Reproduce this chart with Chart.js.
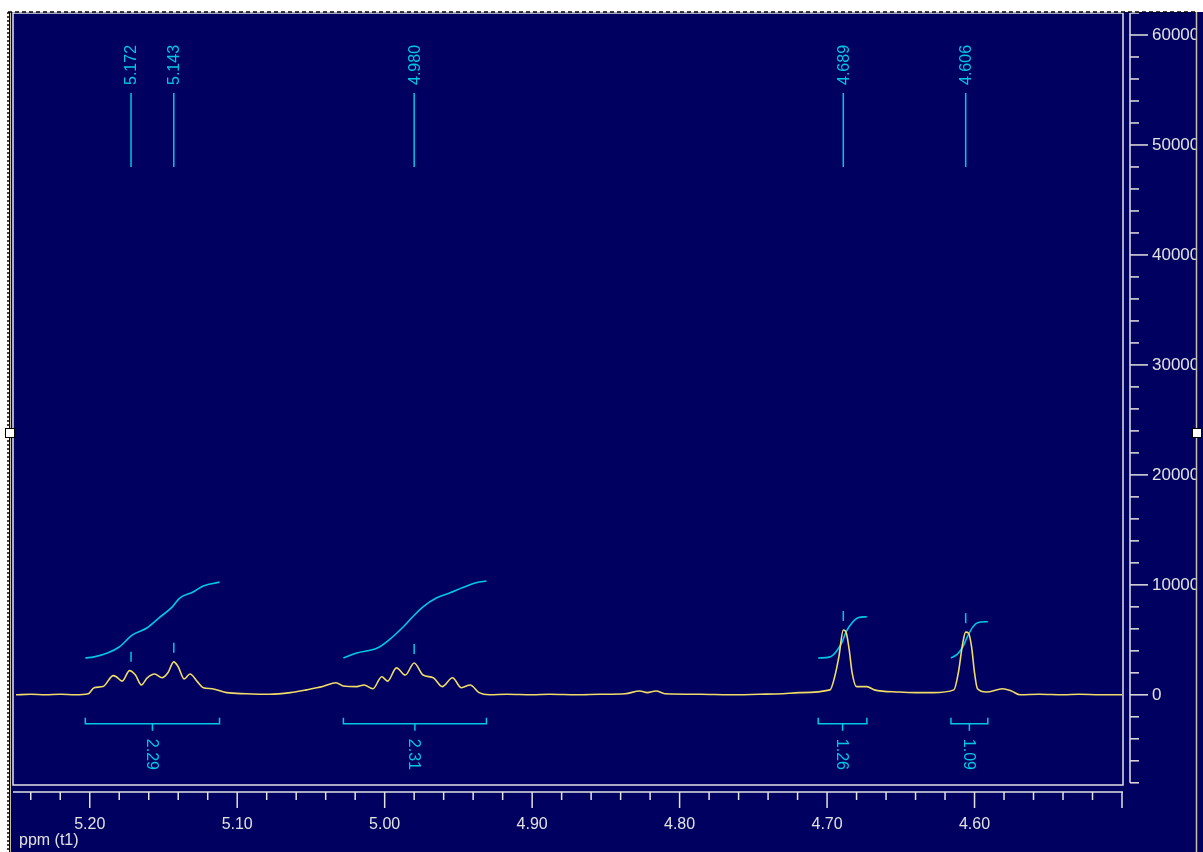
<!DOCTYPE html>
<html>
<head>
<meta charset="utf-8">
<title>1H NMR 4.50-5.25 ppm</title>
<script src="https://cdn.jsdelivr.net/npm/chart.js@4.4.1/dist/chart.umd.min.js"></script>
<style>
  html, body { margin: 0; padding: 0; background: #fff; }
  #wrap { width: 1203px; height: 852px; position: relative; }
</style>
</head>
<body>
<div id="wrap"><canvas id="nmrChart"></canvas></div>
<script>
// spectrum (ppm, intensity)
const ppm = [5.250, 5.240, 5.230, 5.220, 5.210, 5.201, 5.197, 5.191, 5.184, 5.182, 5.178, 5.173, 5.169, 5.165,
  5.161, 5.156, 5.151, 5.147, 5.143, 5.140, 5.136, 5.132, 5.127, 5.123, 5.117, 5.107, 5.094, 5.078,
  5.064, 5.053, 5.042, 5.033, 5.028, 5.019, 5.014, 5.008, 5.002, 4.998, 4.992, 4.986, 4.980, 4.974,
  4.967, 4.961, 4.954, 4.948, 4.942, 4.936, 4.929, 4.917, 4.900, 4.888, 4.870, 4.854, 4.837, 4.827,
  4.822, 4.816, 4.810, 4.786, 4.766, 4.746, 4.730, 4.719, 4.698, 4.695, 4.692, 4.689, 4.687, 4.685,
  4.683, 4.680, 4.673, 4.668, 4.651, 4.640, 4.628, 4.614, 4.611, 4.608, 4.606, 4.604, 4.602, 4.600,
  4.598, 4.592, 4.581, 4.575, 4.569, 4.556, 4.540, 4.529, 4.515, 4.500];
const intensity = [0, 50, 0, 50, 0, 100, 650, 750, 1750, 1650, 1250, 2200, 1800, 900,
  1550, 1900, 1550, 2000, 3000, 2550, 1450, 1900, 1200, 650, 550, 200, 100, 50,
  200, 450, 750, 1100, 800, 750, 900, 550, 1650, 1250, 2450, 1800, 2900, 1800,
  1550, 750, 1550, 650, 900, 200, 0, 50, 0, 50, 0, 50, 100, 350,
  200, 350, 100, 50, 0, 50, 100, 200, 450, 1550, 3450, 5900, 5650, 4100,
  2000, 750, 750, 450, 250, 200, 200, 450, 2000, 4700, 5700, 5600, 4350, 2000,
  550, 250, 550, 350, 0, 50, 0, 50, 0, 0];

// integral curves
const int1Ppm = [5.203, 5.197, 5.188, 5.180, 5.171, 5.161, 5.153, 5.144, 5.139, 5.130, 5.123, 5.112];
const int1Val = [3350, 3450, 3800, 4350, 5450, 6100, 7000, 8000, 8800, 9350, 9900, 10250];
const int2Ppm = [5.028, 5.019, 5.005, 4.997, 4.988, 4.981, 4.974, 4.965, 4.956, 4.947, 4.938, 4.931];
const int2Val = [3350, 3800, 4250, 5000, 6100, 7100, 8000, 8800, 9250, 9750, 10200, 10350];
const int3Ppm = [4.706, 4.698, 4.694, 4.690, 4.687, 4.683, 4.679, 4.673];
const int3Val = [3350, 3450, 3900, 4750, 5750, 6550, 7000, 7100];
const int4Ppm = [4.616, 4.612, 4.608, 4.605, 4.601, 4.598, 4.591];
const int4Val = [3350, 3650, 4350, 5250, 6200, 6550, 6650];

// integral regions and values
const integralFrom = [5.203, 5.028, 4.706, 4.616];
const integralTo = [5.112, 4.931, 4.673, 4.591];
const integralLabels = ['2.29', '2.31', '1.26', '1.09'];

// picked peaks
const peakPpm = [5.172, 5.143, 4.980, 4.689, 4.606];
const peakHeight = [2200, 3000, 2900, 5900, 5700];

// axes
const xTicks = [5.20, 5.10, 5.00, 4.90, 4.80, 4.70, 4.60];
const yTicks = [0, 10000, 20000, 30000, 40000, 50000, 60000];
const xTitle = 'ppm (t1)';

const NAVY = '#000060';
const CYAN = '#00c8e4';
const YELLOW = '#f0dc68';
const AXIS = '#e2e2e2';
const FAMILY = '"Liberation Sans", Arial, sans-serif';
const FONT = { family: FAMILY, size: 16 };
const FONT_CSS = '16px ' + FAMILY;

const pts = (xs, ys) => xs.map((v, i) => ({ x: v, y: ys[i] }));

function seg(ctx, x1, y1, x2, y2) {
  ctx.beginPath();
  ctx.moveTo(x1, y1);
  ctx.lineTo(x2, y2);
  ctx.stroke();
}

// scale labels add to the layout padding; the frame is fixed here instead
function noPad(s) {
  s.paddingTop = 0;
  s.paddingBottom = 0;
  s.paddingLeft = 0;
  s.paddingRight = 0;
}

const decor = {
  id: 'decor',
  beforeDraw(chart) {
    const { ctx, width, height } = chart;
    ctx.save();
    ctx.fillStyle = '#fff';
    ctx.fillRect(0, 0, width, height);
    ctx.fillStyle = NAVY;
    ctx.fillRect(9, 12, width - 9, height - 12);
    ctx.restore();
  },
  afterDraw(chart) {
    const { ctx, width, height, chartArea: a } = chart;
    const x = chart.scales.x, y = chart.scales.y;
    ctx.save();

    // plot frame
    ctx.strokeStyle = AXIS;
    ctx.lineWidth = 1.5;
    ctx.strokeRect(a.left - 3, a.top, a.right - a.left + 4, a.bottom - a.top);
    ctx.strokeStyle = '#c8c0a0';
    ctx.lineWidth = 1;
    seg(ctx, 10.5, 12, 10.5, height);

    // x axis with ticks every 0.02 ppm
    ctx.strokeStyle = AXIS;
    ctx.lineWidth = 1.5;
    const xa = a.bottom + 7;
    seg(ctx, a.left - 3, xa, a.right + 1, xa);
    for (let i = 0; i <= 37; i++) {
      const v = 5.24 - i * 0.02;
      const major = Math.abs(v * 10 - Math.round(v * 10)) < 1e-6;
      const px = x.getPixelForValue(v);
      seg(ctx, px, xa, px, xa + (major ? 16 : 8));
    }
    ctx.fillStyle = AXIS;
    ctx.font = FONT_CSS;
    ctx.textAlign = 'left';
    ctx.textBaseline = 'middle';
    ctx.fillText(xTitle, 19, height - 11);

    // y axis with ticks every 2000
    const ya = a.right + 8;
    seg(ctx, ya, a.top, ya, y.getPixelForValue(-8000));
    for (let v = -8000; v <= 62000; v += 2000) {
      const py = y.getPixelForValue(v);
      seg(ctx, ya, py, ya + (v % 10000 === 0 ? 18 : 9), py);
    }

    // peak picking labels
    ctx.strokeStyle = CYAN;
    ctx.fillStyle = CYAN;
    ctx.lineWidth = 1.5;
    peakPpm.forEach((p, i) => {
      const px = x.getPixelForValue(p);
      seg(ctx, px, a.top + 80, px, a.top + 154);
      const top = y.getPixelForValue(peakHeight[i]);
      seg(ctx, px, top - 9, px, top - 19);
      ctx.save();
      ctx.translate(px, a.top + 72);
      ctx.rotate(-Math.PI / 2);
      ctx.fillText(p.toFixed(3), 0, 1);
      ctx.restore();
    });

    // integral brackets
    const y0 = y.getPixelForValue(0);
    integralFrom.forEach((f, i) => {
      const x1 = x.getPixelForValue(f), x2 = x.getPixelForValue(integralTo[i]);
      const xm = x.getPixelForValue((f + integralTo[i]) / 2);
      ctx.beginPath();
      ctx.moveTo(x1, y0 + 23);
      ctx.lineTo(x1, y0 + 29);
      ctx.lineTo(x2, y0 + 29);
      ctx.lineTo(x2, y0 + 23);
      ctx.stroke();
      seg(ctx, xm, y0 + 29, xm, y0 + 36);
      ctx.save();
      ctx.translate(xm, y0 + 44);
      ctx.rotate(Math.PI / 2);
      ctx.fillText(integralLabels[i], 0, 1);
      ctx.restore();
    });

    // clipped right edge of the panel
    ctx.fillStyle = NAVY;
    ctx.fillRect(1196, 12, width - 1196, height - 12);
    ctx.strokeStyle = '#c8c0a0';
    ctx.lineWidth = 1.5;
    seg(ctx, 1196.5, 12, 1196.5, height);

    // selection border and handles
    ctx.strokeStyle = '#000';
    ctx.lineWidth = 1.5;
    ctx.setLineDash([4, 3]);
    seg(ctx, 8, 12, 1196, 12);
    ctx.setLineDash([2, 2]);
    seg(ctx, 8, 12, 8, height);
    ctx.setLineDash([]);
    ctx.lineWidth = 1;
    ctx.fillStyle = '#fff';
    [[5.5, 428.5], [1192.5, 428.5]].forEach(([hx, hy]) => {
      ctx.fillRect(hx, hy, 9, 9);
      ctx.strokeRect(hx, hy, 9, 9);
    });
    ctx.restore();
  }
};

const curve = (data, color, w) => ({
  data, borderColor: color, borderWidth: w, pointRadius: 0, fill: false,
  cubicInterpolationMode: 'monotone'
});

new Chart(document.getElementById('nmrChart'), {
  type: 'line',
  data: {
    datasets: [
      curve(pts(ppm, intensity), YELLOW, 1.6),
      curve(pts(int1Ppm, int1Val), CYAN, 1.6),
      curve(pts(int2Ppm, int2Val), CYAN, 1.6),
      curve(pts(int3Ppm, int3Val), CYAN, 1.6),
      curve(pts(int4Ppm, int4Val), CYAN, 1.6)
    ]
  },
  options: {
    responsive: true,
    maintainAspectRatio: false,
    animation: false,
    layout: { padding: { left: 16, top: 13, right: 0, bottom: 0 } },
    scales: {
      x: {
        type: 'linear',
        reverse: true,
        min: 4.50,
        max: 5.25,
        grid: { display: false, drawTicks: false },
        border: { display: false },
        afterBuildTicks: s => { s.ticks = xTicks.map(v => ({ value: v })); },
        afterFit: s => { s.height = 67; noPad(s); },
        ticks: { color: AXIS, font: FONT, padding: 30, maxRotation: 0, autoSkip: false,
          callback: v => v.toFixed(2) }
      },
      y: {
        position: 'right',
        min: -8200,
        max: 62000,
        grid: { display: false, drawTicks: false },
        border: { display: false },
        afterBuildTicks: s => { s.ticks = yTicks.map(v => ({ value: v })); },
        afterFit: s => { s.width = 81; noPad(s); },
        ticks: { color: AXIS, font: { family: FAMILY, size: 17 }, padding: 30,
          callback: v => String(v) }
      }
    },
    plugins: {
      legend: { display: false },
      tooltip: { enabled: false }
    }
  },
  plugins: [decor]
});
</script>
</body>
</html>
